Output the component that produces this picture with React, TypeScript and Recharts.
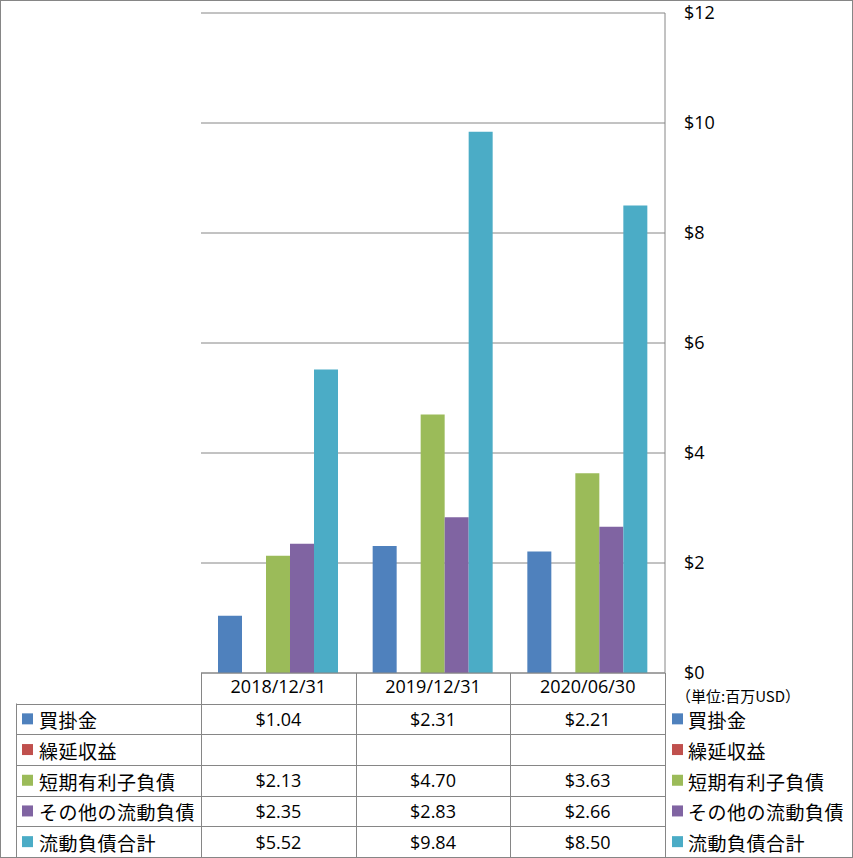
import React from 'react';
import { BarChart, Bar, XAxis, YAxis, CartesianGrid } from 'recharts';

const categories = ['2018/12/31', '2019/12/31', '2020/06/30'];
const seriesNames = ['買掛金', '繰延収益', '短期有利子負債', 'その他の流動負債', '流動負債合計'];
const seriesColors = ['#4F81BD', '#C0504D', '#9BBB59', '#8064A2', '#4BACC6'];
const accountsPayable = [1.04, 2.31, 2.21];
const deferredRevenue: (number | null)[] = [null, null, null];
const shortTermDebt = [2.13, 4.7, 3.63];
const otherCurrent = [2.35, 2.83, 2.66];
const totalCurrent = [5.52, 9.84, 8.5];
const yTicks = [0, 2, 4, 6, 8, 10, 12];
const unitLabel = '（単位:百万USD）';

const seriesValues = [accountsPayable, deferredRevenue, shortTermDebt, otherCurrent, totalCurrent];
const seriesKeys = ['s0', 's1', 's2', 's3', 's4'];

const data = categories.map((c, i) => {
  const row: Record<string, any> = { category: c };
  seriesKeys.forEach((k, j) => {
    row[k] = seriesValues[j][i];
  });
  return row;
});

const W = 853;
const H = 858;
const PL = 201;
const PR = 665;
const PT = 13;
const PB = 673;
const YW = 60;
const XH = 30;
const GRID = '#868686';
const NUM_FONT = '"Open Sans", "Liberation Sans", sans-serif';
const JP_FONT = '"Noto Sans CJK JP", sans-serif';
const NUM_SIZE = 18;

const TABLE_TOP = 703.5;
const TABLE_BOTTOM = 857;
const ROW_H = (TABLE_BOTTOM - TABLE_TOP) / seriesNames.length;
const BAND = (PR - PL) / categories.length;

export default function App() {
  const rowCenter = (i: number) => TABLE_TOP + ROW_H * (i + 0.5);
  return (
    <div style={{ position: 'absolute', left: 0, top: 0, width: W, height: H, background: '#fff' }}>
      <BarChart
        width={W}
        height={H}
        data={data}
        margin={{ top: PT, left: PL, right: W - PR - YW, bottom: H - PB - XH }}
        barGap={0}
      >
        <CartesianGrid horizontal vertical={false} stroke={GRID} strokeWidth={1} />
        <XAxis
          dataKey="category"
          height={XH}
          axisLine={{ stroke: GRID }}
          tickLine={false}
          tickSize={0}
          tickMargin={7}
          tick={{ fill: '#000', fontSize: NUM_SIZE, fontFamily: NUM_FONT }}
          interval={0}
        />
        <YAxis
          orientation="right"
          width={YW}
          domain={[0, 12]}
          ticks={yTicks}
          tickFormatter={(v: number) => `$${v}`}
          axisLine={{ stroke: GRID }}
          tickLine={false}
          tickSize={0}
          tickMargin={19}
          tick={{ fill: '#000', fontSize: NUM_SIZE, fontFamily: NUM_FONT, textAnchor: 'start' }}
          interval={0}
        />
        {seriesKeys.map((k, j) => (
          <Bar
            key={k}
            dataKey={k}
            name={seriesNames[j]}
            fill={seriesColors[j]}
            barSize={24}
            isAnimationActive={false}
          />
        ))}
      </BarChart>
      <svg
        width={W}
        height={H}
        style={{ position: 'absolute', left: 0, top: 0, pointerEvents: 'none' }}
      >
        <rect x={0.5} y={0.5} width={W - 1} height={H - 1} fill="none" stroke={GRID} />
        {categories.map((_, i) => (
          <line
            key={'v' + i}
            x1={Math.round(PL + BAND * i) + 0.5}
            x2={Math.round(PL + BAND * i) + 0.5}
            y1={PB}
            y2={TABLE_BOTTOM}
            stroke={GRID}
          />
        ))}
        <line x1={PR + 0.5} x2={PR + 0.5} y1={PB} y2={TABLE_BOTTOM} stroke={GRID} />
        <line x1={16.5} x2={16.5} y1={TABLE_TOP} y2={TABLE_BOTTOM} stroke={GRID} />
        {seriesNames.map((_, i) => (
          <line
            key={'h' + i}
            x1={16}
            x2={PR + 1}
            y1={Math.round(TABLE_TOP + ROW_H * i) + 0.5}
            y2={Math.round(TABLE_TOP + ROW_H * i) + 0.5}
            stroke={GRID}
          />
        ))}
        {seriesNames.map((name, i) => (
          <g key={'r' + i}>
            <rect x={22} y={rowCenter(i) - 5.5} width={11} height={11} fill={seriesColors[i]} />
            <text
              x={39}
              y={rowCenter(i) + 1}
              fontSize={19}
              fontFamily={JP_FONT}
              letterSpacing={0.5}
              dominantBaseline="central"
              fill="#000"
            >
              {name}
            </text>
            {categories.map((_, c) => {
              const v = seriesValues[i][c];
              if (v === null || v === undefined) return null;
              return (
                <text
                  key={c}
                  x={PL + BAND * (c + 0.5)}
                  y={rowCenter(i)}
                  fontSize={NUM_SIZE}
                  fontFamily={NUM_FONT}
                  textAnchor="middle"
                  dominantBaseline="central"
                  fill="#000"
                >
                  {`$${v.toFixed(2)}`}
                </text>
              );
            })}
          </g>
        ))}
        <text
          x={676}
          y={695}
          fontSize={15}
          fontFamily={JP_FONT}
          dominantBaseline="central"
          fill="#000"
        >
          {unitLabel}
        </text>
        {seriesNames.map((name, i) => (
          <g key={'l' + i}>
            <rect x={672} y={rowCenter(i) - 5.5} width={11} height={11} fill={seriesColors[i]} />
            <text
              x={688}
              y={rowCenter(i) + 1}
              fontSize={19}
              fontFamily={JP_FONT}
              letterSpacing={0.5}
              dominantBaseline="central"
              fill="#000"
            >
              {name}
            </text>
          </g>
        ))}
      </svg>
    </div>
  );
}
